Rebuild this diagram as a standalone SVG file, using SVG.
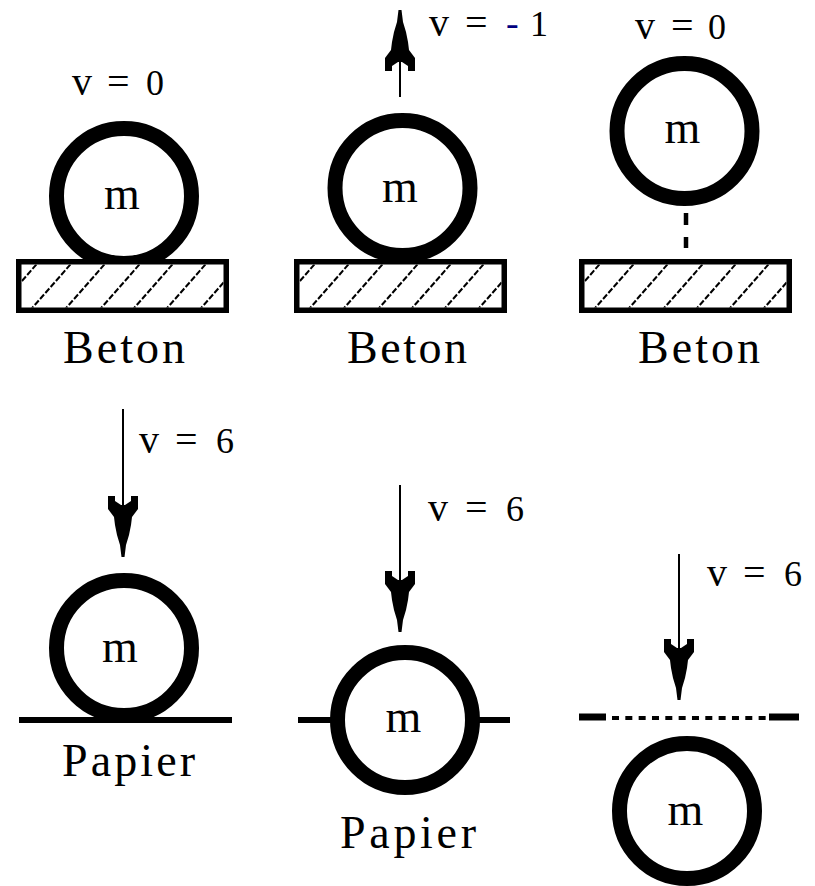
<svg xmlns="http://www.w3.org/2000/svg" xmlns:xlink="http://www.w3.org/1999/xlink" width="815" height="886" viewBox="0 0 815 886">
<style>
.ring{fill:#fff;stroke:#000;stroke-width:15}
.lbl{font-family:"Liberation Serif","Times New Roman",serif;font-size:46px;fill:#000}
.m{font-family:"Liberation Serif","Times New Roman",serif;font-size:46px;fill:#000;text-anchor:middle}
.v{font-family:"Liberation Serif","Times New Roman",serif;font-size:36px;fill:#000}
.v .g{font-size:40px}
.v .q{font-size:40px}
.shaft{stroke:#000;stroke-width:2;fill:none}
.hatch{stroke:#000;stroke-width:2;stroke-dasharray:6 2;fill:none}
.paper{stroke:#000;stroke-width:6;fill:none}
</style>
<defs>
<clipPath id="boxClip"><rect x="5.5" y="5.5" width="202" height="43"/></clipPath>
<g id="beton">
<rect x="2.75" y="2.75" width="207.5" height="48.5" fill="#fff"/>
<g class="hatch" clip-path="url(#boxClip)">
<line x1="-20.5" y1="52" x2="23.5" y2="2"/>
<line x1="13.5" y1="52" x2="57.5" y2="2"/>
<line x1="47.5" y1="52" x2="91.5" y2="2"/>
<line x1="82.5" y1="52" x2="126.5" y2="2"/>
<line x1="115.5" y1="52" x2="159.5" y2="2"/>
<line x1="148.5" y1="52" x2="192.5" y2="2"/>
<line x1="182.5" y1="52" x2="226.5" y2="2"/>
</g>
<rect x="2.75" y="2.75" width="207.5" height="48.5" fill="none" stroke="#000" stroke-width="5.5"/>
</g>
<path id="head" d="M-1.5,0 L-3,-12 L-6,-22 L-8,-32 L-9,-40 L-15,-48 L-15,-61 L-8,-61 L-8,-56 L-2,-52 L2,-52 L8,-56 L8,-61 L15,-61 L15,-48 L9,-40 L8,-32 L6,-22 L3,-12 L1.5,0 Z" fill="#000"/>
</defs>
<rect width="815" height="886" fill="#fff"/>

<g id="connectors">
<line class="shaft" x1="400" y1="40" x2="400" y2="97"/>
<use xlink:href="#head" href="#head" transform="translate(400,10) scale(1,-1)"/>
<line x1="686" y1="213" x2="686" y2="248" stroke="#000" stroke-width="4.5" stroke-dasharray="12 12"/>
<line class="shaft" x1="123" y1="409" x2="123" y2="520"/>
<use xlink:href="#head" href="#head" transform="translate(123,557)"/>
<line class="shaft" x1="400" y1="485" x2="400" y2="600"/>
<use xlink:href="#head" href="#head" transform="translate(400,632)"/>
<line class="shaft" x1="679" y1="554" x2="679" y2="670"/>
<use xlink:href="#head" href="#head" transform="translate(679,700)"/>
</g>

<g id="panel1">
<circle class="ring" cx="124" cy="196" r="67.5"/>
<use xlink:href="#beton" href="#beton" transform="translate(16,259)"/>
<text class="m" x="122" y="209">m</text>
<text class="v" y="95"><tspan class="g" x="72">v</tspan><tspan class="q" x="107">=</tspan><tspan x="146">0</tspan></text>
<text class="lbl" x="63" y="363" textLength="122" lengthAdjust="spacing">Beton</text>
</g>

<g id="panel2">
<circle class="ring" cx="402.5" cy="188" r="67.5"/>
<use xlink:href="#beton" href="#beton" transform="translate(294,259)"/>
<text class="m" x="400" y="202">m</text>
<text class="v" y="36"><tspan class="g" x="429">v</tspan><tspan class="q" x="465">=</tspan><tspan x="506" fill="#000080" font-size="38">-</tspan><tspan x="530">1</tspan></text>
<text class="lbl" x="347" y="363" textLength="120" lengthAdjust="spacing">Beton</text>
</g>

<g id="panel3">
<circle class="ring" cx="684.5" cy="131" r="67.5"/>
<use xlink:href="#beton" href="#beton" transform="translate(579,259)"/>
<text class="m" x="682.5" y="143">m</text>
<text class="v" y="39"><tspan class="g" x="635">v</tspan><tspan class="q" x="671">=</tspan><tspan x="708">0</tspan></text>
<text class="lbl" x="638" y="363" textLength="122" lengthAdjust="spacing">Beton</text>
</g>

<g id="panel4">
<line class="paper" x1="19" y1="720" x2="232" y2="720"/>
<circle class="ring" cx="124" cy="648" r="67.5"/>
<text class="m" x="120" y="662">m</text>
<text class="v" y="453"><tspan class="g" x="139">v</tspan><tspan class="q" x="175">=</tspan><tspan x="216">6</tspan></text>
<text class="lbl" x="62" y="776" textLength="133" lengthAdjust="spacing">Papier</text>
</g>

<g id="panel5">
<line class="paper" x1="298" y1="720" x2="510" y2="720"/>
<circle class="ring" cx="405" cy="720" r="67.5"/>
<text class="m" x="403.5" y="732">m</text>
<text class="v" y="521"><tspan class="g" x="428">v</tspan><tspan class="q" x="465">=</tspan><tspan x="506">6</tspan></text>
<text class="lbl" x="340" y="848" textLength="136" lengthAdjust="spacing">Papier</text>
</g>

<g id="panel6">
<line x1="579" y1="717" x2="606" y2="717" stroke="#000" stroke-width="7"/>
<line x1="612" y1="718" x2="766" y2="718" stroke="#000" stroke-width="4" stroke-dasharray="7 6.33"/>
<line x1="769" y1="717" x2="799" y2="717" stroke="#000" stroke-width="7"/>
<circle class="ring" cx="687" cy="811" r="67.5"/>
<text class="m" x="685.5" y="825">m</text>
<text class="v" y="586"><tspan class="g" x="707">v</tspan><tspan class="q" x="743">=</tspan><tspan x="784">6</tspan></text>
</g>
</svg>
